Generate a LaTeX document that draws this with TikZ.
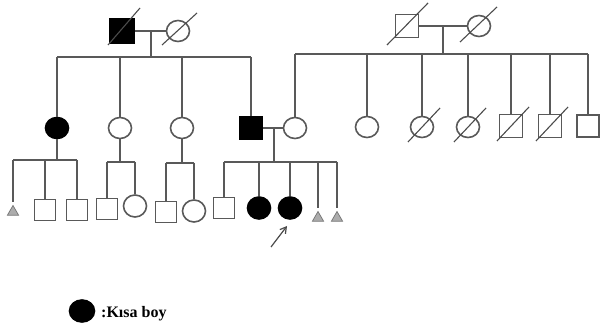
\documentclass[tikz,border=0pt]{standalone}
\usepackage{fontspec}
\setmainfont{Liberation Serif}
\usetikzlibrary{shapes.geometric,arrows.meta}
\begin{document}
\begin{tikzpicture}[x=1pt,y=-1pt,
  ln/.style={draw=black!65, line width=1.6pt},
  male/.style={rectangle, draw=black!65, line width=1.6pt, minimum size=22pt, inner sep=0pt},
  female/.style={ellipse, draw=black!65, line width=1.6pt, minimum width=23pt, minimum height=21pt, inner sep=0pt},
  aff/.style={fill=black, draw=black},
  slash/.style={draw=black!70, line width=1.1pt},
  misc/.style={regular polygon, regular polygon sides=3, fill=gray!65, draw=black!55, line width=0.7pt, minimum size=13pt, inner sep=0pt}]
\fill[white] (0,0) rectangle (603,331);
\useasboundingbox (0,0) rectangle (603,331);

% Generation I
\node[male,aff,minimum size=24pt] (I1) at (122,31) {};
\node[female] (I2) at (178,31) {};
\node[male,minimum size=23pt] (I3) at (407,26) {};
\node[female] (I4) at (479,26) {};
\draw[slash] (I1.center) ++(-14,14) -- ++(32,-37);
\draw[slash] (I2.center) ++(-16,14) -- ++(35,-32);
\draw[slash] (I3.center) ++(-20,19) -- ++(41,-42);
\draw[slash] (I4.center) ++(-19,16) -- ++(37,-35);
\draw[ln] (I1) -- (I2);
\draw[ln] (I3) -- (I4);
\coordinate (m1) at (151,31);
\coordinate (s1) at (151,57);
\coordinate (m2) at (443,26);
\coordinate (s2) at (443,54);
\draw[ln] (m1) -- (s1);
\draw[ln] (m2) -- (s2);

% Generation II
\node[female,aff] (II1) at (57,128) {};
\node[female] (II2) at (120,128) {};
\node[female] (II3) at (182,128) {};
\node[male,aff,minimum size=23pt] (II4) at (251,128) {};
\node[female] (II5) at (295,128) {};
\node[female] (II6) at (367,127) {};
\node[female] (II7) at (422,127) {};
\node[female] (II8) at (468,127) {};
\node[male,minimum size=23pt] (II9) at (511,126) {};
\node[male,minimum size=23pt] (II10) at (550,126) {};
\node[male,minimum size=22pt] (II11) at (588,126) {};
\foreach \n in {II7,II8,II9,II10}
  \draw[slash] (\n.center) ++(-14,15) -- ++(32,-34);

\draw[ln] (II1 |- s1) -- (II4 |- s1);
\foreach \n in {II1,II2,II3,II4}
  \draw[ln] (\n |- s1) -- (\n);
\draw[ln] (II5 |- s2) -- (II11 |- s2);
\foreach \n in {II5,II6,II7,II8,II9,II10,II11}
  \draw[ln] (\n |- s2) -- (\n);
\draw[ln] (II4) -- (II5);

% Generation III
\coordinate (dA) at (57,160);
\coordinate (dB) at (120,162);
\coordinate (dC) at (182,163);
\coordinate (mD) at (274,128);
\coordinate (dD) at (274,162);

\node[misc] (T1) at (13,212) {};
\node[male,minimum size=21pt] (S1) at (45,210) {};
\node[male,minimum size=21pt] (S2) at (77,210) {};
\node[male,minimum size=21pt] (S3) at (107,209) {};
\node[female,minimum height=22pt] (F1) at (135,206) {};
\node[male,minimum size=21pt] (S4) at (166,212) {};
\node[female,minimum height=22pt] (F2) at (194,211) {};
\node[male,minimum size=21pt] (S5) at (224,208) {};
\node[female,aff,minimum height=22pt] (A1) at (259,208) {};
\node[female,aff,minimum height=22pt] (A2) at (290,208) {};
\node[misc] (T2) at (318,218) {};
\node[misc] (T3) at (337,218) {};

\draw[ln] (II1) -- (dA);
\draw[ln] (T1 |- dA) -- (S2 |- dA);
\draw[ln, shorten >=3pt] (T1 |- dA) -- (T1.north);
\draw[ln] (S1 |- dA) -- (S1);
\draw[ln] (S2 |- dA) -- (S2);

\draw[ln] (II2) -- (dB);
\draw[ln] (S3 |- dB) -- (F1 |- dB);
\draw[ln] (S3 |- dB) -- (S3);
\draw[ln] (F1 |- dB) -- (F1);

\draw[ln] (II3) -- (dC);
\draw[ln] (S4 |- dC) -- (F2 |- dC);
\draw[ln] (S4 |- dC) -- (S4);
\draw[ln] (F2 |- dC) -- (F2);

\draw[ln] (mD) -- (dD);
\draw[ln] (S5 |- dD) -- (T3 |- dD);
\foreach \n in {S5,A1,A2}
  \draw[ln] (\n |- dD) -- (\n);
\draw[ln, shorten >=3pt] (T2 |- dD) -- (T2.north);
\draw[ln, shorten >=3pt] (T3 |- dD) -- (T3.north);

% proband arrow
\coordinate (arrS) at (271,247);
\coordinate (arrE) at (287,226);
\draw[draw=black!70, line width=1.2pt, -{Straight Barb[length=6pt,width=7pt]}] (arrS) -- (arrE);

% legend
\node[female,aff,minimum width=25pt,minimum height=22pt] (L) at (82,311) {};
\node[anchor=base west, inner sep=0pt, font=\bfseries\fontsize{16}{16}\selectfont] (Lt) at (101,318) {:Kısa boy};
\end{tikzpicture}
\end{document}
